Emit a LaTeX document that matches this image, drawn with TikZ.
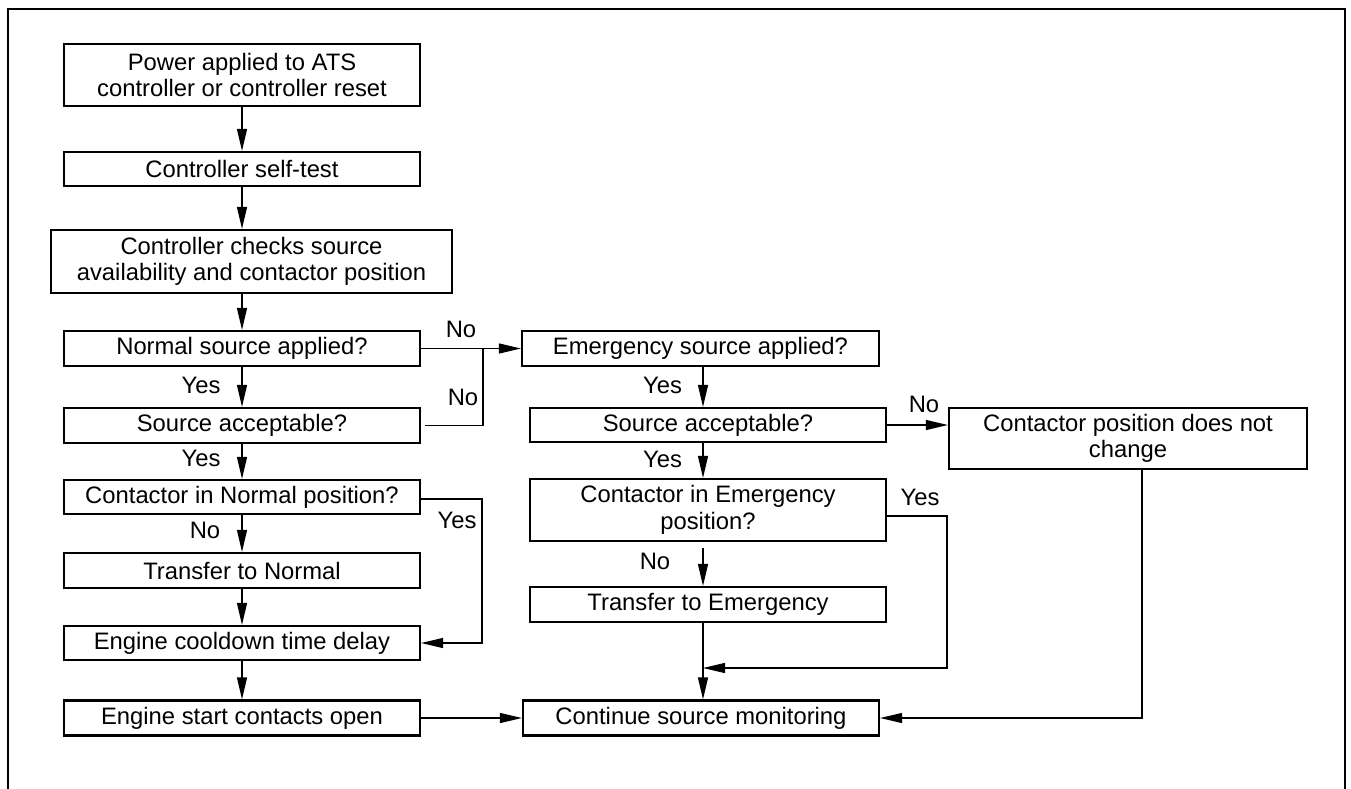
\documentclass[tikz,border=0pt]{standalone}
\usepackage{fontspec}
\setmainfont{Liberation Sans}
\usetikzlibrary{arrows.meta}
\begin{document}
\begin{tikzpicture}[x=1pt,y=-1pt,
  box/.style={draw,line width=2.2pt,inner sep=0pt,align=center,font=\fontsize{23.8}{26.5}\selectfont},
  lbl/.style={inner sep=0pt,font=\fontsize{23.8}{26.5}\selectfont},
  conn/.style={line width=1.2pt,-{Triangle[length=22pt,width=10pt]}},
  wire/.style={line width=1.2pt}]
\useasboundingbox (0,0) rectangle (1351,789);
\draw[line width=2pt] (8,789) -- (8,9) -- (1345,9) -- (1345,789);
% left column
\node[box,minimum width=356pt,minimum height=62pt] (n1) at (242,75) {Power applied to ATS\\controller or controller reset};
\node[box,minimum width=356pt,minimum height=34pt] (n2) at (242,169) {Controller self-test};
\node[box,minimum width=401pt,minimum height=63pt] (n3) at (251.5,261.5) {Controller checks source\\availability and contactor position};
\node[box,minimum width=356pt,minimum height=35pt] (n4) at (242,348.5) {Normal source applied?};
\node[box,minimum width=356pt,minimum height=35pt] (n5) at (242,425.5) {Source acceptable?};
\node[box,minimum width=356pt,minimum height=34pt] (n6) at (242,497) {Contactor in Normal position?};
\node[box,minimum width=356pt,minimum height=35pt] (n7) at (242,570.5) {Transfer to Normal};
\node[box,minimum width=356pt,minimum height=34pt] (n8) at (242,643) {Engine cooldown time delay};
\node[box,minimum width=356pt,minimum height=35pt] (n9) at (242,718) {Engine start contacts open};
% center column
\node[box,minimum width=357pt,minimum height=35pt] (e1) at (700.5,348.5) {Emergency source applied?};
\node[box,minimum width=356pt,minimum height=34pt] (e2) at (708,425) {Source acceptable?};
\node[box,minimum width=356pt,minimum height=62pt] (e3) at (708,510) {Contactor in Emergency\\position?};
\node[box,minimum width=356pt,minimum height=35pt] (e4) at (708,604.5) {Transfer to Emergency};
\node[box,minimum width=356pt,minimum height=35pt] (c) at (701,718) {Continue source monitoring};
% right
\node[box,minimum width=358pt,minimum height=61pt] (r) at (1128,438.5) {Contactor position does not\\change};
% helper coordinates
\coordinate (ex) at (703,0);
\coordinate (jn) at (483,348.5);
\coordinate (yn) at (482,0);
\coordinate (ye) at (947,668);
\coordinate (rx) at (1142,0);
% left column arrows
\draw[conn] (n1.south) -- (n2.north);
\draw[conn] (n2.south) -- (n2.south |- n3.north);
\draw[conn] (n2.south |- n3.south) -- (n4.north);
\draw[conn] (n4.south) -- (n5.north);
\draw[conn] (n5.south) -- (n6.north);
\draw[conn] (n6.south) -- (n7.north);
\draw[conn] (n7.south) -- (n8.north);
\draw[conn] (n8.south) -- (n9.north);
\node[lbl] (y1) at (201,385) {Yes};
\node[lbl] (y2) at (201,458.5) {Yes};
\node[lbl] (no1) at (205,530.5) {No};
% normal -> emergency
\draw[conn] (n4.east) -- (e1.west);
\draw[wire] ([xshift=4pt]n5.east) -| (jn);
\node[lbl] (no2) at (461,329) {No};
\node[lbl] (no3) at (463,397.5) {No};
% contactor normal yes
\draw[conn] ([yshift=-2pt]n6.east) -| (yn |- n8.east) -- (n8.east);
\node[lbl] (y3) at (457,520.5) {Yes};
% emergency column
\draw[conn] (ex |- e1.south) -- (ex |- e2.north);
\draw[conn] (ex |- e2.south) -- (ex |- e3.north);
\draw[conn] ([yshift=-6pt]ex |- e3.south) -- (ex |- e4.north);
\draw[conn] (ex |- e4.south) -- (ex |- c.north);
\node[lbl] (y4) at (662.5,385) {Yes};
\node[lbl] (y5) at (662.5,459) {Yes};
\node[lbl] (no4) at (655,561.5) {No};
% emergency source acceptable no
\draw[conn] (e2.east) -- (e2.east -| r.west);
\node[lbl] (no5) at (924,404.5) {No};
% contactor emergency yes
\draw[conn] ([yshift=-6pt]e3.east) -| (ye) -- (ex |- ye);
\node[lbl] (y6) at (920,497) {Yes};
% bottom
\draw[conn] (n9.east) -- (c.west);
\draw[conn] (rx |- r.south) -- (rx |- c.east) -- (c.east);
\end{tikzpicture}
\end{document}
